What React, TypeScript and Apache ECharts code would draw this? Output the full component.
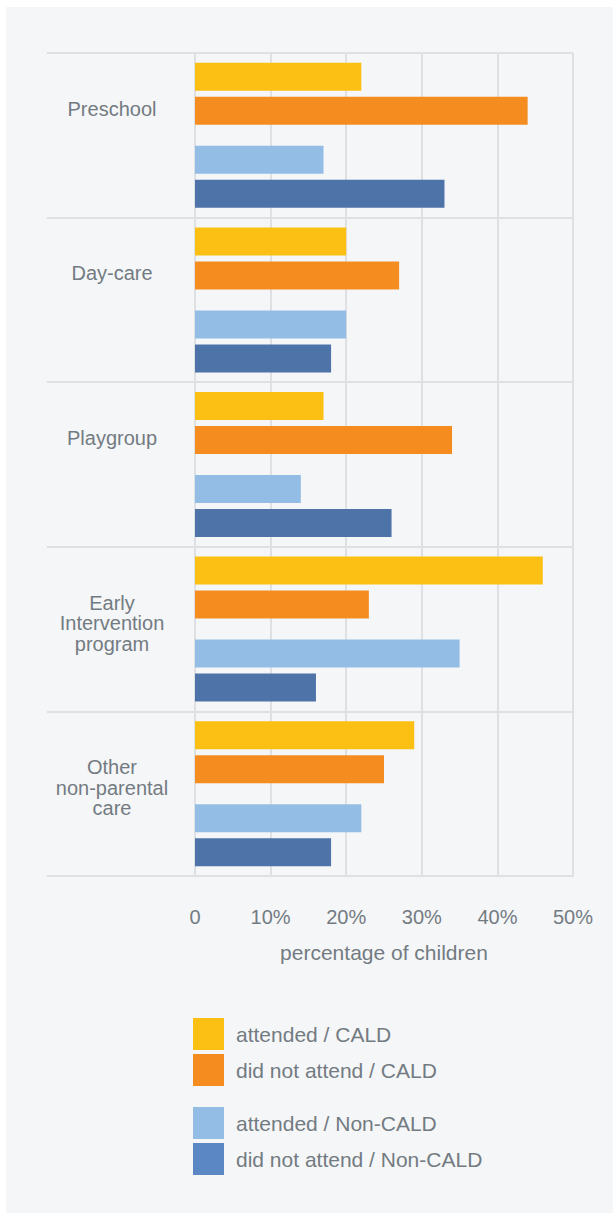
import React, { useEffect, useRef } from "react";
import * as echarts from "echarts";

const categories = ["Preschool", "Day-care", "Playgroup", "Early\nIntervention\nprogram", "Other\nnon-parental\ncare"];
const seriesNames = ["attended / CALD", "did not attend / CALD", "attended / Non-CALD", "did not attend / Non-CALD"];
const attendedCALD = [22, 20, 17, 46, 29];
const notAttendedCALD = [44, 27, 34, 23, 25];
const attendedNonCALD = [17, 20, 14, 35, 22];
const notAttendedNonCALD = [33, 18, 26, 16, 18];
const xTicks = [0, 10, 20, 30, 40, 50];

const TEXT = "#737b82";
const GRID = "#dfe0e3";
const FONT = "Liberation Sans";

export default function App() {
  const ref = useRef<HTMLDivElement>(null);
  useEffect(() => {
    if (!ref.current) return;
    const chart = echarts.init(ref.current, null, { renderer: "svg" });
    const barBase = { type: "bar", barWidth: 28, barGap: "21.4%", barCategoryGap: 0 };
    chart.setOption({
      animation: false,
      backgroundColor: "#f5f6f8",
      textStyle: { fontFamily: FONT },
      grid: { left: 189, right: 40, top: 46, bottom: 337, containLabel: false },
      xAxis: {
        type: "value",
        min: xTicks[0],
        max: xTicks[xTicks.length - 1],
        interval: 10,
        axisLine: { show: true, lineStyle: { color: GRID, width: 2 } },
        axisTick: { show: false },
        splitLine: { show: true, lineStyle: { color: GRID, width: 2 } },
        axisLabel: {
          color: TEXT,
          fontSize: 20,
          fontFamily: FONT,
          margin: 31,
          formatter: (v: number) => (v === 0 ? "0" : v + "%"),
        },
        name: "percentage of children",
        nameLocation: "middle",
        nameGap: 66,
        nameTextStyle: { color: TEXT, fontSize: 21, fontFamily: FONT },
      },
      yAxis: {
        type: "category",
        inverse: true,
        data: categories,
        axisLine: { show: true, lineStyle: { color: GRID, width: 2 } },
        axisTick: { show: true, length: 148, lineStyle: { color: GRID, width: 2 } },
        splitLine: { show: true, lineStyle: { color: GRID, width: 2 } },
        axisLabel: {
          color: TEXT,
          fontSize: 20,
          fontFamily: FONT,
          lineHeight: 20.5,
          align: "center",
          verticalAlign: "middle",
          margin: 83,
          formatter: (v: string) => {
            const lines = v.split("\n");
            while (lines.length < 3) lines.push(" ");
            return lines.map((l) => `{t|${l}}`).join("\n") + "\n{s| }";
          },
          rich: {
            t: { color: TEXT, fontSize: 20, fontFamily: FONT, lineHeight: 20.5, align: "center" },
            s: { fontSize: 2, lineHeight: 12, align: "center" },
          },
        },
      },
      legend: [
        {
          orient: "vertical",
          left: 187,
          top: 1011,
          itemWidth: 31,
          itemHeight: 32,
          itemGap: 4,
          padding: 0,
          selectedMode: false,
          icon: "rect",
          textStyle: { color: TEXT, fontSize: 21, fontFamily: FONT, padding: [0, 0, 0, 7] },
          data: [{ name: seriesNames[0] }, { name: seriesNames[1] }],
        },
        {
          orient: "vertical",
          left: 187,
          top: 1100,
          itemWidth: 31,
          itemHeight: 32,
          itemGap: 4,
          padding: 0,
          selectedMode: false,
          icon: "rect",
          textStyle: { color: TEXT, fontSize: 21, fontFamily: FONT, padding: [0, 0, 0, 7] },
          data: [
            { name: seriesNames[2] },
            { name: seriesNames[3], itemStyle: { color: "#5b88c5" } },
          ],
        },
      ],
      series: [
        { ...barBase, name: seriesNames[0], data: attendedCALD, itemStyle: { color: "#fcbf13" } },
        { ...barBase, name: seriesNames[1], data: notAttendedCALD, itemStyle: { color: "#f58c20" } },
        { ...barBase, name: "spacer", barWidth: 12.35, data: [], itemStyle: { color: "transparent" } },
        { ...barBase, name: seriesNames[2], data: attendedNonCALD, itemStyle: { color: "#94bde6" } },
        { ...barBase, name: seriesNames[3], data: notAttendedNonCALD, itemStyle: { color: "#4e73a8" } },
      ],
    });
    return () => chart.dispose();
  }, []);
  return (
    <div
      ref={ref}
      style={{ position: "absolute", left: 6, top: 7, width: 607, height: 1206 }}
    />
  );
}
